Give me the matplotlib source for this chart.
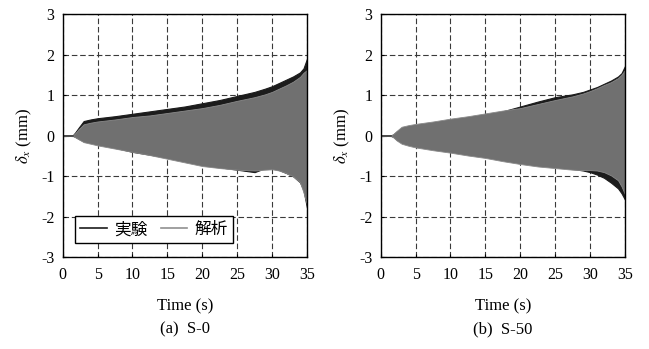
import numpy as np
import matplotlib
matplotlib.use('Agg')
import matplotlib.pyplot as plt

plt.rcParams['font.family'] = ['Liberation Serif', 'DejaVu Serif']
plt.rcParams['mathtext.fontset'] = 'stix'
plt.rcParams['axes.unicode_minus'] = False

# envelope of the response (time in s, displacement in mm)
t_a = [0, 1.4, 1.8, 2.3, 3, 4, 5, 7.5, 10, 12.5, 15, 17.5, 20, 22.5, 25, 27.5, 29, 30, 31, 32, 33, 34, 34.5, 35]
exp_up_a = [0, 0, 0.08, 0.2, 0.36, 0.4, 0.43, 0.48, 0.54, 0.6, 0.66, 0.72, 0.8, 0.88, 0.98, 1.08, 1.16, 1.22, 1.3, 1.38, 1.46, 1.56, 1.66, 1.9]
exp_lo_a = [0, 0, -0.03, -0.08, -0.14, -0.17, -0.2, -0.3, -0.4, -0.47, -0.54, -0.62, -0.72, -0.78, -0.84, -0.9, -0.8, -0.8, -0.85, -0.92, -1.0, -1.15, -1.35, -1.78]
ana_up_a = [0, 0, 0.06, 0.16, 0.28, 0.32, 0.35, 0.4, 0.46, 0.5, 0.56, 0.62, 0.68, 0.76, 0.86, 0.95, 1.02, 1.08, 1.16, 1.24, 1.33, 1.45, 1.55, 1.62]
ana_lo_a = [0, 0, -0.04, -0.09, -0.16, -0.2, -0.24, -0.32, -0.4, -0.48, -0.57, -0.66, -0.75, -0.8, -0.84, -0.86, -0.84, -0.83, -0.86, -0.92, -1.0, -1.15, -1.4, -1.7]

t_b = [0, 1.4, 1.8, 2.3, 3, 4, 5, 7.5, 10, 12.5, 15, 17.5, 20, 22.5, 25, 27.5, 29, 30, 31, 32, 33, 34, 34.5, 35]
exp_up_b = [0, 0, 0.03, 0.1, 0.18, 0.22, 0.25, 0.31, 0.37, 0.43, 0.5, 0.6, 0.72, 0.84, 0.95, 1.02, 1.08, 1.14, 1.2, 1.28, 1.36, 1.46, 1.54, 1.72]
exp_lo_b = [0, 0, -0.03, -0.1, -0.16, -0.21, -0.25, -0.3, -0.34, -0.4, -0.46, -0.54, -0.62, -0.7, -0.76, -0.82, -0.86, -0.9, -0.96, -1.04, -1.16, -1.3, -1.42, -1.58]
ana_up_b = [0, 0, 0.04, 0.12, 0.22, 0.26, 0.29, 0.35, 0.42, 0.48, 0.55, 0.62, 0.68, 0.78, 0.88, 0.97, 1.04, 1.1, 1.17, 1.25, 1.32, 1.42, 1.5, 1.62]
ana_lo_b = [0, 0, -0.04, -0.12, -0.2, -0.25, -0.29, -0.36, -0.42, -0.49, -0.55, -0.63, -0.7, -0.76, -0.8, -0.84, -0.85, -0.85, -0.86, -0.9, -0.98, -1.1, -1.25, -1.45]

x_ticks = [0, 5, 10, 15, 20, 25, 30, 35]
y_ticks = [-3, -2, -1, 0, 1, 2, 3]
captions = ['(a)  S-0', '(b)  S-50']

fig = plt.figure(figsize=(6.49, 3.49), dpi=100)
ax1 = fig.add_axes([0.0966, 0.2628, 0.3764, 0.697])
ax2 = fig.add_axes([0.5866, 0.2628, 0.3764, 0.697])

panels = [(ax1, t_a, exp_up_a, exp_lo_a, ana_up_a, ana_lo_a),
          (ax2, t_b, exp_up_b, exp_lo_b, ana_up_b, ana_lo_b)]

for i, (ax, t, eu, el, au, al) in enumerate(panels):
	# experiment drawn first (black), analysis on top (grey)
	ax.fill_between(t, el, eu, color='#1c1c1c', lw=0.8, edgecolor='#1c1c1c', zorder=2)
	ax.fill_between(t, al, au, color='#707070', lw=0.6, edgecolor='#8a8a8a', zorder=3)
	ax.plot([0, 1.5], [0, 0], c='#444444', lw=1.2, zorder=4)
	ax.set_xlim(0, 35)
	ax.set_ylim(-3, 3)
	ax.set_xticks(x_ticks)
	ax.set_yticks(y_ticks)
	ax.grid(True, ls=(0, (5, 2.5)), c='#3a3a3a', lw=0.8, zorder=1)
	ax.set_axisbelow(True)
	ax.tick_params(direction='in', length=2.5, width=0.8, labelsize=11.5)
	ax.tick_params(axis='x', pad=7)
	ax.tick_params(axis='y', pad=6)
	for s in ax.spines.values():
		s.set_linewidth(1.0)
		s.set_zorder(5)
	ax.set_xlabel('Time (s)', fontsize=12, labelpad=11)
	ax.set_ylabel(r'$\delta_x$ (mm)', fontsize=12, labelpad=5)
	ax.text(0.5, -0.295, captions[i], transform=ax.transAxes, ha='center', va='center', fontsize=12)

h1, = ax1.plot([], [], c='#1c1c1c', lw=1.2, label='実験')
h2, = ax1.plot([], [], c='#909090', lw=1.2, label='解析')
leg = ax1.legend(handles=[h1, h2], loc='lower left', bbox_to_anchor=(0.05, 0.058), ncol=2,
                 prop={'family': ['Noto Sans CJK JP'], 'size': 12}, frameon=True, fancybox=False,
                 framealpha=1, edgecolor='black', handlelength=1.6, columnspacing=0.8,
                 handletextpad=0.45, borderpad=0.3, borderaxespad=0)
leg.get_frame().set_linewidth(1.0)
leg.set_zorder(6)

plt.savefig('out.png', dpi=100)
